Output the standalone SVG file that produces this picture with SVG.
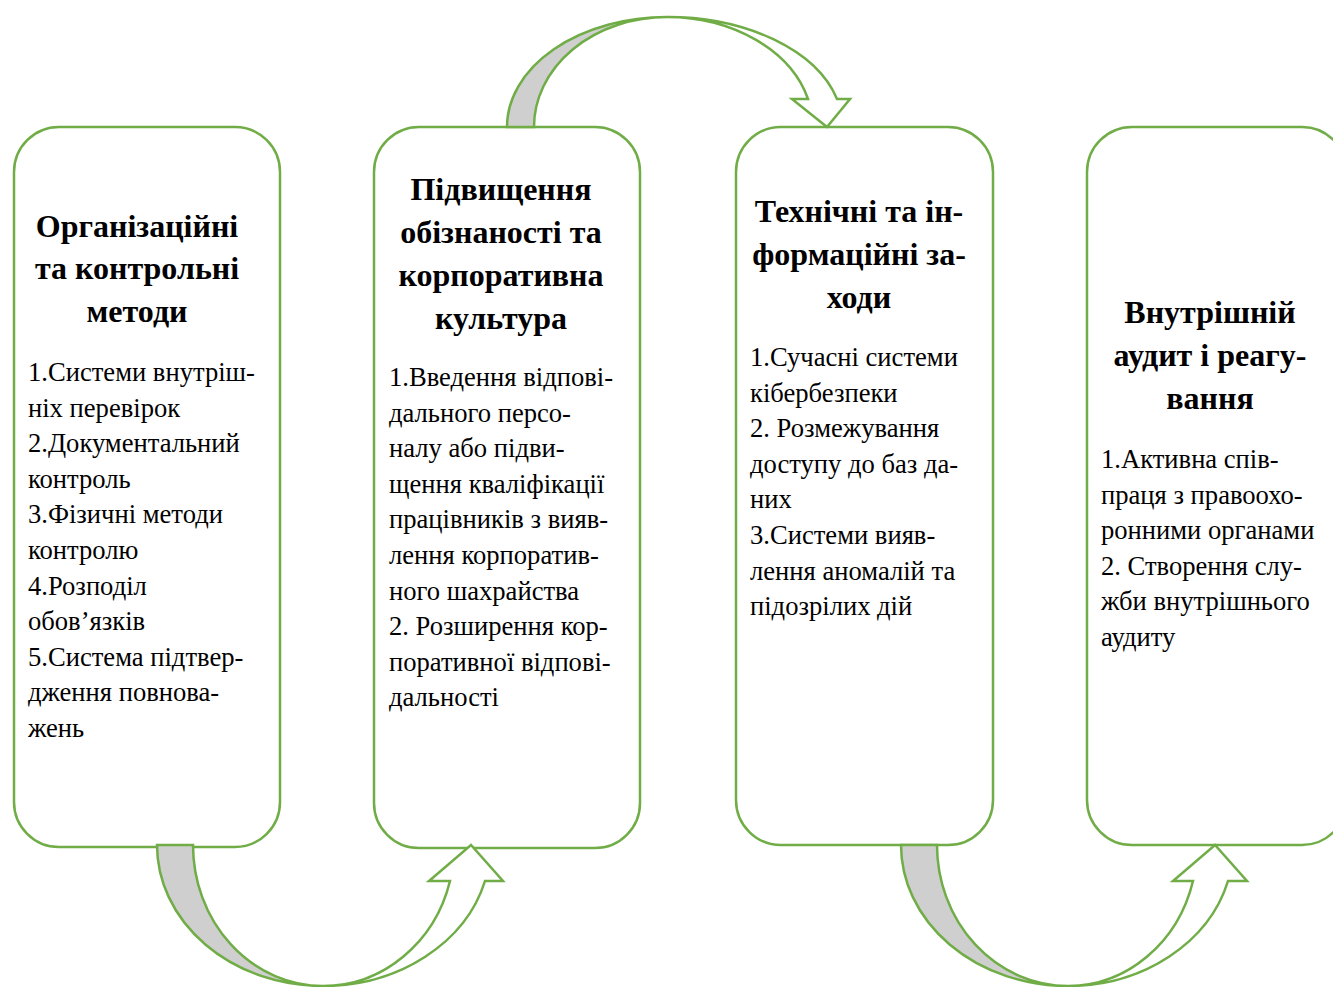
<svg xmlns="http://www.w3.org/2000/svg" width="1333" height="987" viewBox="0 0 1333 987">
<style>
.box{fill:#ffffff;stroke:#70AD47;stroke-width:2.5}
.back{fill:#CFCFCF;stroke:#70AD47;stroke-width:2.5;stroke-linejoin:miter}
.front{fill:#ffffff;stroke:#70AD47;stroke-width:2.5;stroke-linejoin:miter}
.title{font-family:"Liberation Serif","Times New Roman",serif;font-weight:bold;font-size:32px;fill:#000;text-anchor:middle}
.body{font-family:"Liberation Serif","Times New Roman",serif;font-size:26.6px;fill:#000}
</style>
<rect width="1333" height="987" fill="#ffffff"/>
<g id="node1">
<rect class="box" x="14" y="127" width="266" height="720" rx="45" ry="45"/>
<text class="title"><tspan x="137" y="237">Організаційні</tspan><tspan x="137" y="279">та контрольні</tspan><tspan x="137" y="322">методи</tspan></text>
<text class="body"><tspan x="28" y="381">1.Системи внутріш-</tspan><tspan x="28" y="416.6">ніх перевірок</tspan><tspan x="28" y="452.2">2.Документальний</tspan><tspan x="28" y="487.8">контроль</tspan><tspan x="28" y="523.4">3.Фізичні методи</tspan><tspan x="28" y="559">контролю</tspan><tspan x="28" y="594.6">4.Розподіл</tspan><tspan x="28" y="630.2">обов’язків</tspan><tspan x="28" y="665.8">5.Система підтвер-</tspan><tspan x="28" y="701.4">дження повнова-</tspan><tspan x="28" y="737">жень</tspan></text>
</g>
<g id="node2">
<rect class="box" x="374" y="127" width="266" height="721" rx="45" ry="45"/>
<text class="title"><tspan x="501" y="200">Підвищення</tspan><tspan x="501" y="243">обізнаності та</tspan><tspan x="501" y="286">корпоративна</tspan><tspan x="501" y="329">культура</tspan></text>
<text class="body"><tspan x="389" y="386">1.Введення відпові-</tspan><tspan x="389" y="421.6">дального персо-</tspan><tspan x="389" y="457.2">налу або підви-</tspan><tspan x="389" y="492.8">щення кваліфікації</tspan><tspan x="389" y="528.4">працівників з вияв-</tspan><tspan x="389" y="564">лення корпоратив-</tspan><tspan x="389" y="599.6">ного шахрайства</tspan><tspan x="389" y="635.2">2. Розширення кор-</tspan><tspan x="389" y="670.8">поративної відпові-</tspan><tspan x="389" y="706.4">дальності</tspan></text>
</g>
<g id="node3">
<rect class="box" x="736" y="127" width="257" height="718" rx="45" ry="45"/>
<text class="title"><tspan x="859" y="222">Технічні та ін-</tspan><tspan x="859" y="265">формаційні за-</tspan><tspan x="859" y="308">ходи</tspan></text>
<text class="body"><tspan x="750" y="366">1.Сучасні системи</tspan><tspan x="750" y="401.6">кібербезпеки</tspan><tspan x="750" y="437.2">2. Розмежування</tspan><tspan x="750" y="472.8">доступу до баз да-</tspan><tspan x="750" y="508.4">них</tspan><tspan x="750" y="544">3.Системи вияв-</tspan><tspan x="750" y="579.6">лення аномалій та</tspan><tspan x="750" y="615.2">підозрілих дій</tspan></text>
</g>
<g id="node4">
<rect class="box" x="1087" y="127" width="260" height="718" rx="45" ry="45"/>
<text class="title"><tspan x="1210" y="323">Внутрішній</tspan><tspan x="1210" y="366">аудит і реагу-</tspan><tspan x="1210" y="409">вання</tspan></text>
<text class="body"><tspan x="1101" y="468">1.Активна спів-</tspan><tspan x="1101" y="503.6">праця з правоохо-</tspan><tspan x="1101" y="539.2">ронними органами</tspan><tspan x="1101" y="574.8">2. Створення слу-</tspan><tspan x="1101" y="610.4">жби внутрішнього</tspan><tspan x="1101" y="646">аудиту</tspan></text>
</g>
<g id="connectors">
<g id="arrow-2-3">
<path class="back" d="M507,127 A160,110 0 0 1 667,17 A133,110 0 0 0 534,127 Z"/>
<path class="front" d="M667,17 A175,110 0 0 1 837,99 L850,99 L827,127 L792,99 L808,99 A146,110 0 0 0 667,17 Z"/>
</g>
<g id="arrow-1-2">
<path class="back" d="M157,845 L193,845 A130,141 0 0 0 323,986 A166,141 0 0 1 157,845 Z"/>
<path class="front" d="M323,986 A167.6,141 0 0 0 485,881 L503,881 L471,845 L429,881 L450,881 A131.4,141 0 0 1 323,986 Z"/>
</g>
<g id="arrow-3-4">
<path class="back" d="M901,845 L937,845 A131,141 0 0 0 1068,986 A167,141 0 0 1 901,845 Z"/>
<path class="front" d="M1068,986 A165.5,141 0 0 0 1228,881 L1247,881 L1215,845 L1173,881 L1193,881 A129,141 0 0 1 1068,986 Z"/>
</g>
</g>
</svg>
